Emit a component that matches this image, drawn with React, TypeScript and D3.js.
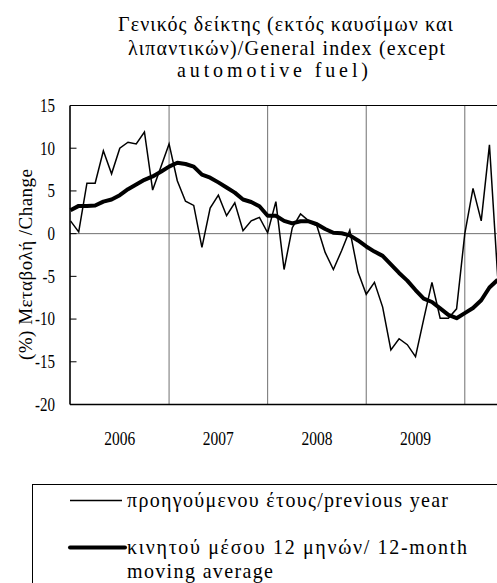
import React from "react";
import * as d3 from "d3";

const titleLines = [
  "Γενικός δείκτης (εκτός καυσίμων και",
  "λιπαντικών)/General index (except",
  "automotive fuel)",
];
const yLabel = "(%) Μεταβολή  /Change";
const years = ["2006", "2007", "2008", "2009"];
const yTicks = [15, 10, 5, 0, -5, -10, -15, -20];
const legendLabels = [
  "προηγούμενου έτους/previous year",
  "κινητού μέσου 12 μηνών/ 12-month",
  "moving average",
];

// monthly, index 0 = first point on the left axis
const yoy = [
  1.5, 0.2, 5.9, 5.9, 9.7, 7.0, 10.0, 10.7, 10.5, 11.9, 5.1, 7.8,
  10.5, 6.2, 3.8, 3.3, -1.6, 3.0, 4.5, 2.1, 3.6, 0.35, 1.5, 1.9,
  0.1, 3.75, -4.2, 0.7, 2.3, 1.5, 0.9, -2.2, -4.2, -2.0, 0.4, -4.5,
  -7.1, -5.7, -8.6, -13.6, -12.3, -13.0, -14.4, -10.0, -5.7, -9.9, -9.9, -8.8,
  0.0, 5.3, 1.5, 10.4, -5.0,
];
const movingAvg = [
  2.75, 3.25, 3.25, 3.3, 3.75, 4.0, 4.5, 5.2, 5.75, 6.3, 6.7, 7.25,
  7.85, 8.3, 8.15, 7.85, 6.9, 6.55, 6.0, 5.4, 4.8, 4.0, 3.7, 3.2,
  2.1, 2.1, 1.5, 1.2, 1.45, 1.45, 1.1, 0.55, 0.1, 0.05, -0.2, -0.8,
  -1.5, -2.1, -2.6, -3.6, -4.6, -5.5, -6.6, -7.6, -8.0, -8.75, -9.5, -9.9,
  -9.3, -8.7, -7.8, -6.3, -5.4,
];

const W = 497;
const H = 583;
const FONT = "'Liberation Serif', 'Times New Roman', serif";

export default function App() {
  const x = d3.scaleLinear().domain([0, 48]).range([70.5, 464.8]);
  const y = d3.scaleLinear().domain([-20, 15]).range([404.5, 105.5]);
  const line = d3
    .line<number>()
    .x((_, i) => x(i))
    .y((d) => y(d));

  const left = 70;
  const top = y(15);
  const bottom = y(-20);
  const gridIdx = [12, 24, 36, 48];
  const sy = 1.2;
  const st = 1.02;
  const fs = 20;

  return (
    <svg
      width={W}
      height={H}
      style={{ position: "absolute", left: 0, top: 0, background: "#fff" }}
      fontFamily={FONT}
    >
      <rect x={0} y={0} width={W} height={H} fill="#fff" />
      {/* title */}
      <text transform={`translate(118,30.5) scale(1,${st})`} fontSize={fs} textLength={335} lengthAdjust="spacing">
        {titleLines[0]}
      </text>
      <text transform={`translate(128,54.5) scale(1,${st})`} fontSize={fs} textLength={317} lengthAdjust="spacing">
        {titleLines[1]}
      </text>
      <text transform={`translate(177,77) scale(1,${st})`} fontSize={fs} textLength={191} lengthAdjust="spacing">
        {titleLines[2]}
      </text>

      {/* grid */}
      {gridIdx.map((g) => (
        <line key={g} x1={x(g)} x2={x(g)} y1={top} y2={bottom} stroke="#707070" strokeWidth={1} />
      ))}
      <line x1={left} x2={W} y1={y(0)} y2={y(0)} stroke="#707070" strokeWidth={1} />

      {/* frame */}
      <line x1={left} x2={W} y1={top} y2={top} stroke="#000" strokeWidth={1.2} />
      <line x1={left} x2={W} y1={bottom} y2={bottom} stroke="#000" strokeWidth={1.6} />
      <line x1={left} x2={left} y1={top} y2={bottom} stroke="#000" strokeWidth={1.6} />
      {yTicks.map((t) => (
        <g key={t}>
          <line x1={left} x2={left + 6.5} y1={y(t)} y2={y(t)} stroke="#000" strokeWidth={1} />
          <text
            transform={`translate(55,${y(t) + 6.3}) scale(1,${sy})`}
            fontSize={15}
            textAnchor="end"
          >
            {t}
          </text>
        </g>
      ))}

      {/* y label */}
      <text
        transform={`translate(32,264.5) rotate(-90) scale(1,${st})`}
        fontSize={19}
        textAnchor="middle"
        textLength={191}
        lengthAdjust="spacing"
      >
        {yLabel}
      </text>

      {/* year labels */}
      {years.map((yr, i) => (
        <text
          key={yr}
          transform={`translate(${x(12 * i + 6)},445) scale(1,${sy})`}
          fontSize={15.5}
          textAnchor="middle"
        >
          {yr}
        </text>
      ))}

      {/* series */}
      <path d={line(yoy) || ""} fill="none" stroke="#000" strokeWidth={1.5} strokeLinejoin="miter" />
      <path d={line(movingAvg) || ""} fill="none" stroke="#000" strokeWidth={4} strokeLinejoin="round" />

      {/* legend */}
      <rect x={32.5} y={484.5} width={W} height={200} fill="none" stroke="#000" strokeWidth={1} />
      <line x1={70} x2={122} y1={500.5} y2={500.5} stroke="#000" strokeWidth={1.5} />
      <line x1={70} x2={125} y1={547.5} y2={547.5} stroke="#000" strokeWidth={4} strokeLinecap="round" />
      <text transform={`translate(127,506.5) scale(1,${st})`} fontSize={fs} textLength={321} lengthAdjust="spacing">
        {legendLabels[0]}
      </text>
      <text transform={`translate(127,554) scale(1,${st})`} fontSize={fs} textLength={340} lengthAdjust="spacing">
        {legendLabels[1]}
      </text>
      <text transform={`translate(127,578) scale(1,${st})`} fontSize={fs} textLength={146} lengthAdjust="spacing">
        {legendLabels[2]}
      </text>
    </svg>
  );
}
